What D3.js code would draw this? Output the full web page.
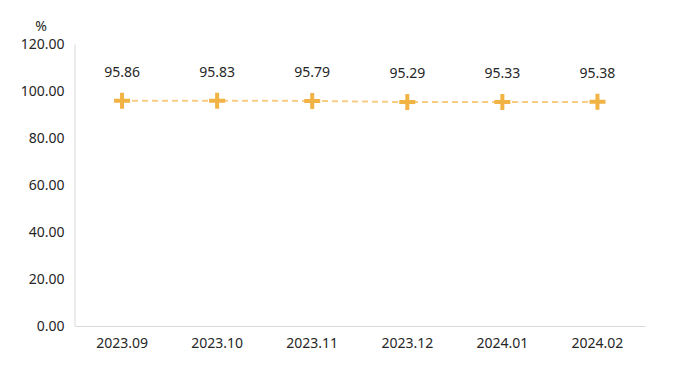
<!DOCTYPE html>
<html>
<head>
<meta charset="utf-8">
<script src="https://cdn.jsdelivr.net/npm/d3@7"></script>
<style>
	body { margin: 0; background: #fff; }
	text { font-family: "Noto Sans", sans-serif; fill: #262626; }
</style>
</head>
<body>
<script>
/* Data. */
const months = ['2023.09', '2023.10', '2023.11', '2023.12', '2024.01', '2024.02'];
const values = [95.86, 95.83, 95.79, 95.29, 95.33, 95.38];
const yTicks = [0, 20, 40, 60, 80, 100, 120];

/**
 * Creates the line chart.
 */
function createChart() {
	const width = 688;
	const height = 373;
	const margin = { top: 44, right: 43, bottom: 47, left: 74.5 };

	let svg = d3.select('body').append('svg')
		.attr('width', width)
		.attr('height', height);

	let xScale = d3.scaleBand()
		.domain(months)
		.range([margin.left, width - margin.right]);
	let yScale = d3.scaleLinear()
		.domain([0, 120])
		.range([height - margin.bottom, margin.top]);

	/* Y axis. */
	let yAxis = svg.append('g')
		.attr('transform', 'translate(' + margin.left + ',0)')
		.call(d3.axisLeft(yScale).tickValues(yTicks).tickSize(0).tickPadding(10)
			.tickFormat(d3.format('.2f')));
	yAxis.select('.domain').attr('stroke', '#d9d9d9');
	yAxis.selectAll('text').attr('font-size', 14);

	/* X axis. */
	let xAxis = svg.append('g')
		.attr('transform', 'translate(0,' + (height - margin.bottom) + ')')
		.call(d3.axisBottom(xScale).tickSize(0).tickPadding(12));
	xAxis.select('.domain').attr('stroke', '#d9d9d9');
	xAxis.selectAll('text').attr('font-size', 14);

	/* Unit label. */
	svg.append('text')
		.attr('x', 41)
		.attr('y', 31)
		.attr('text-anchor', 'middle')
		.attr('font-size', 14)
		.text('%');

	let cx = function(d, i) { return xScale(months[i]) + xScale.bandwidth() / 2; };

	/* Dashed line. */
	svg.append('path')
		.datum(values)
		.attr('fill', 'none')
		.attr('stroke', '#f7cd83')
		.attr('stroke-width', 2)
		.attr('stroke-dasharray', '6,4')
		.attr('d', d3.line().x(cx).y(function(d) { return yScale(d); }));

	/* Plus markers. */
	let plus = svg.selectAll('.marker')
			.data(values)
		.enter().append('path')
			.attr('class', 'marker')
			.attr('fill', 'none')
			.attr('stroke', '#f2b345')
			.attr('stroke-width', 4)
			.attr('d', function(d, i) {
				let x = cx(d, i);
				let y = yScale(d);
				return 'M' + (x - 8) + ',' + y + 'H' + (x + 8) + 'M' + x + ',' + (y - 8) + 'V' + (y + 8);
			});

	/* Value labels. */
	svg.selectAll('.label')
			.data(values)
		.enter().append('text')
			.attr('class', 'label')
			.attr('x', cx)
			.attr('y', function(d) { return yScale(d) - 24; })
			.attr('text-anchor', 'middle')
			.attr('font-size', 14)
			.text(function(d) { return d.toFixed(2); });
}

window.onload = function() {
	createChart();
};
</script>
</body>
</html>
